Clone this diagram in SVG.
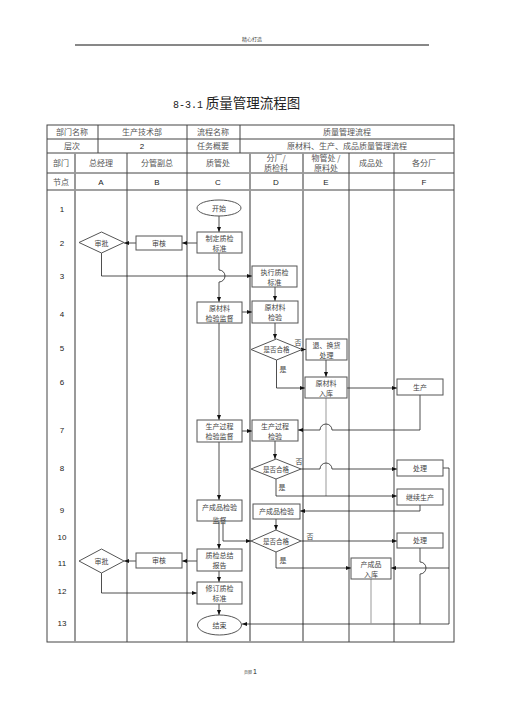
<svg xmlns="http://www.w3.org/2000/svg" width="505" height="714" viewBox="0 0 505 714">
<style>
.t{font-family:"Noto Sans CJK SC","Liberation Serif",sans-serif;font-size:7px;fill:#444;text-anchor:middle}
.h{font-family:"Noto Sans CJK SC","Liberation Serif",sans-serif;font-size:8px;fill:#555;text-anchor:middle}
.n{font-family:"Liberation Sans",Arial,sans-serif;font-size:8px;fill:#222;text-anchor:middle}
.s{font-family:"Noto Sans CJK SC",sans-serif;font-size:6.5px;fill:#444;text-anchor:middle}
.box{fill:#fff;stroke:#555;stroke-width:1}
.c{fill:none;stroke:#222;stroke-width:0.8}
.g{fill:none;stroke:#999;stroke-width:1}
.a{marker-end:url(#ar)}
.tl{stroke:#444;stroke-width:1;fill:none}
.tg{stroke:#999;stroke-width:2;fill:none}
</style>
<defs>
<marker id="ar" viewBox="0 0 10 10" refX="10" refY="5" markerWidth="5" markerHeight="5" markerUnits="userSpaceOnUse" orient="auto"><path d="M0,1 L10,5 L0,9z" fill="#111"/></marker>
</defs>
<rect width="505" height="714" fill="#fff"/>
<g id="page">
<text x="252" y="41" style="font-family:'Noto Sans CJK SC',sans-serif;font-size:5px;fill:#444;text-anchor:middle">精心打造</text>
<line x1="75" y1="45" x2="429" y2="45" stroke="#111" stroke-width="1"/>
<text x="188" y="108" style="font-family:'Liberation Mono',monospace;font-size:10px;fill:#222;text-anchor:middle">8-3.1</text>
<text x="253" y="108" style="font-family:'Noto Sans CJK SC',sans-serif;font-size:13.5px;fill:#222;text-anchor:middle">质量管理流程图</text>
<text x="252" y="674" style="font-family:'Noto Sans CJK SC',sans-serif;font-size:4px;fill:#444;text-anchor:end">页脚</text>
<text x="253" y="674" style="font-family:'Liberation Sans',sans-serif;font-size:7px;fill:#222">1</text>
</g>
<g id="table">
<rect x="47" y="125" width="407" height="517" class="tl"/>
<path class="tl" d="M47,139H454M47,153H454M47,173H454M47,190H454M98,125V153M187,125V153M240,125V153M127,153V642M187,153V642M349,153V642M394,153V642"/>
<path class="tg" d="M75,153V642M250,153V642M303,153V642"/>
<text class="h" x="72" y="135">部门名称</text>
<text class="h" x="142" y="135">生产技术部</text>
<text class="h" x="213" y="135">流程名称</text>
<text class="h" x="347" y="135">质量管理流程</text>
<text class="h" x="72" y="149">层次</text>
<text class="n" x="142" y="149">2</text>
<text class="h" x="213" y="149">任务概要</text>
<text class="h" x="347" y="149">原材料、生产、成品质量管理流程</text>
<text class="h" x="61" y="166">部门</text>
<text class="h" x="101" y="166">总经理</text>
<text class="h" x="157" y="166">分管副总</text>
<text class="h" x="218" y="166">质管处</text>
<text class="h" x="276" y="161">分厂/</text>
<text class="h" x="276" y="171">质检科</text>
<text class="h" x="326" y="161">物管处 /</text>
<text class="h" x="326" y="171">原料处</text>
<text class="h" x="371" y="166">成品处</text>
<text class="h" x="424" y="166">各分厂</text>
<text class="h" x="61" y="185">节点</text>
<text class="n" x="101" y="185">A</text>
<text class="n" x="157" y="185">B</text>
<text class="n" x="218" y="185">C</text>
<text class="n" x="276" y="185">D</text>
<text class="n" x="326" y="185">E</text>
<text class="n" x="424" y="185">F</text>
<text class="n" x="62" y="212">1</text>
<text class="n" x="62" y="246">2</text>
<text class="n" x="62" y="279">3</text>
<text class="n" x="62" y="317">4</text>
<text class="n" x="62" y="351">5</text>
<text class="n" x="62" y="385">6</text>
<text class="n" x="62" y="433">7</text>
<text class="n" x="62" y="471">8</text>
<text class="n" x="62" y="513">9</text>
<text class="n" x="62" y="540">10</text>
<text class="n" x="62" y="566">11</text>
<text class="n" x="62" y="594">12</text>
<text class="n" x="62" y="626">13</text>
</g>
<g id="connectors">
<path class="c a" d="M219,216V232"/>
<path class="c a" d="M197,243H182"/>
<path class="c a" d="M136,243H124"/>
<path class="c a" d="M101.5,253V276H252"/>
<path class="c a" d="M219,253V270A6,6 0 0 1 219,282V302"/>
<path class="c a" d="M275,287V301"/>
<path class="c a" d="M242,312H252"/>
<path class="c a" d="M275,323V339"/>
<path class="c a" d="M302,349.5H306"/>
<path class="c a" d="M326,360V377"/>
<path class="c a" d="M276.5,360V388H305"/>
<path class="c a" d="M347,388H397"/>
<path class="g" d="M326,398V496"/>
<path class="c a" d="M420,395V430H332A6,6 0 0 0 320,430H298"/>
<path class="c a" d="M219,323V420"/>
<path class="c a" d="M242,431H252"/>
<path class="c a" d="M275,441V459"/>
<path class="c a" d="M301,469H320A6,6 0 0 1 332,469H397"/>
<path class="c a" d="M276,479V496H397"/>
<path class="c a" d="M420,505V511H300"/>
<path class="c a" d="M219,442V500"/>
<path class="c a" d="M219,522V549"/>
<path class="c a" d="M223,522V541H251"/>
<path class="c a" d="M276,519V530"/>
<path class="c a" d="M301,541H397"/>
<path class="c a" d="M276,552V568H351"/>
<path class="c a" d="M443,468H449V624H242"/>
<path class="c a" d="M449,568H391"/>
<path class="c" d="M420,548V562A6,6 0 0 1 420,574V624"/>
<path class="g" d="M371,579V624"/>
<path class="c a" d="M197,561H182"/>
<path class="c a" d="M136,561H124"/>
<path class="c a" d="M101.5,573V593H197"/>
<path class="c a" d="M219,571V582"/>
<path class="c a" d="M219,604V615"/>
<text class="t" x="298" y="345">否</text>
<text class="t" x="283" y="372">是</text>
<text class="t" x="299" y="464">否</text>
<text class="t" x="282" y="490">是</text>
<text class="t" x="310" y="539">否</text>
<text class="t" x="283" y="563">是</text>
</g>
<g id="start"><ellipse cx="219" cy="208" rx="22" ry="8" class="box"/><text class="t" x="219" y="210.5">开始</text></g>
<g id="make-std"><rect x="197" y="232" width="45" height="21" class="box"/><text class="t" x="219.5" y="240.5">制定质检</text><text class="t" x="219.5" y="250.5">标准</text></g>
<g id="review2"><rect x="136" y="236" width="46" height="14" class="box"/><text class="t" x="159" y="245.5">审核</text></g>
<g id="approve2"><polygon points="79,242.5 101.5,232 124,242.5 101.5,253" class="box"/><text class="t" x="101.5" y="245.5">审批</text></g>
<g id="exec-std"><rect x="252" y="266" width="45" height="21" class="box"/><text class="t" x="274.5" y="274.5">执行质检</text><text class="t" x="274.5" y="284.5">标准</text></g>
<g id="raw-sup"><rect x="197" y="302" width="45" height="21" class="box"/><text class="t" x="219.5" y="310.5">原材料</text><text class="t" x="219.5" y="320.5">检验监督</text></g>
<g id="raw-insp"><rect x="252" y="301" width="46" height="22" class="box"/><text class="t" x="275" y="310">原材料</text><text class="t" x="275" y="320">检验</text></g>
<g id="dec5"><polygon points="251,349.5 276.5,339 302,349.5 276.5,360" class="box"/><text class="s" x="276.5" y="352">是否合格</text></g>
<g id="return"><rect x="306" y="339" width="41" height="21" class="box"/><text class="t" x="326.5" y="347.5">退、换货</text><text class="t" x="326.5" y="357.5">处理</text></g>
<g id="raw-store"><rect x="305" y="377" width="42" height="21" class="box"/><text class="t" x="326" y="385.5">原材料</text><text class="t" x="326" y="395.5">入库</text></g>
<g id="produce"><rect x="397" y="379" width="46" height="16" class="box"/><text class="t" x="420" y="389.5">生产</text></g>
<g id="proc-sup"><rect x="197" y="420" width="45" height="22" class="box"/><text class="t" x="219.5" y="429">生产过程</text><text class="t" x="219.5" y="439">检验监督</text></g>
<g id="proc-insp"><rect x="252" y="420" width="46" height="21" class="box"/><text class="t" x="275" y="428.5">生产过程</text><text class="t" x="275" y="438.5">检验</text></g>
<g id="dec8"><polygon points="251,469 276,459 301,469 276,479" class="box"/><text class="s" x="276" y="471.5">是否合格</text></g>
<g id="handle8"><rect x="397" y="460" width="46" height="16" class="box"/><text class="t" x="420" y="470.5">处理</text></g>
<g id="continue"><rect x="397" y="489" width="46" height="16" class="box"/><text class="t" x="420" y="499.5">继续生产</text></g>
<g id="fin-sup"><rect x="197" y="500" width="45" height="21" class="box"/><text class="t" x="219.5" y="509.5">产成品检验</text><text class="t" x="219.5" y="523">监督</text></g>
<g id="fin-insp"><rect x="253" y="504" width="47" height="15" class="box"/><text class="t" x="276.5" y="514">产成品检验</text></g>
<g id="dec10"><polygon points="251,541 276,530 301,541 276,552" class="box"/><text class="s" x="276" y="543.5">是否合格</text></g>
<g id="handle10"><rect x="397" y="533" width="46" height="15" class="box"/><text class="t" x="420" y="543">处理</text></g>
<g id="summary"><rect x="197" y="549" width="45" height="22" class="box"/><text class="t" x="219.5" y="558">质检总结</text><text class="t" x="219.5" y="568">报告</text></g>
<g id="review11"><rect x="136" y="553" width="46" height="15" class="box"/><text class="t" x="159" y="563">审核</text></g>
<g id="approve11"><polygon points="79,561 101.5,549 124,561 101.5,573" class="box"/><text class="t" x="101.5" y="563.5">审批</text></g>
<g id="fin-store"><rect x="351" y="558" width="40" height="21" class="box"/><text class="t" x="371" y="566.5">产成品</text><text class="t" x="371" y="576.5">入库</text></g>
<g id="revise"><rect x="197" y="582" width="45" height="22" class="box"/><text class="t" x="219.5" y="591">修订质检</text><text class="t" x="219.5" y="601">标准</text></g>
<g id="end"><ellipse cx="219.5" cy="625" rx="22" ry="10" class="box"/><text class="t" x="219.5" y="627.5">结束</text></g>
</svg>
